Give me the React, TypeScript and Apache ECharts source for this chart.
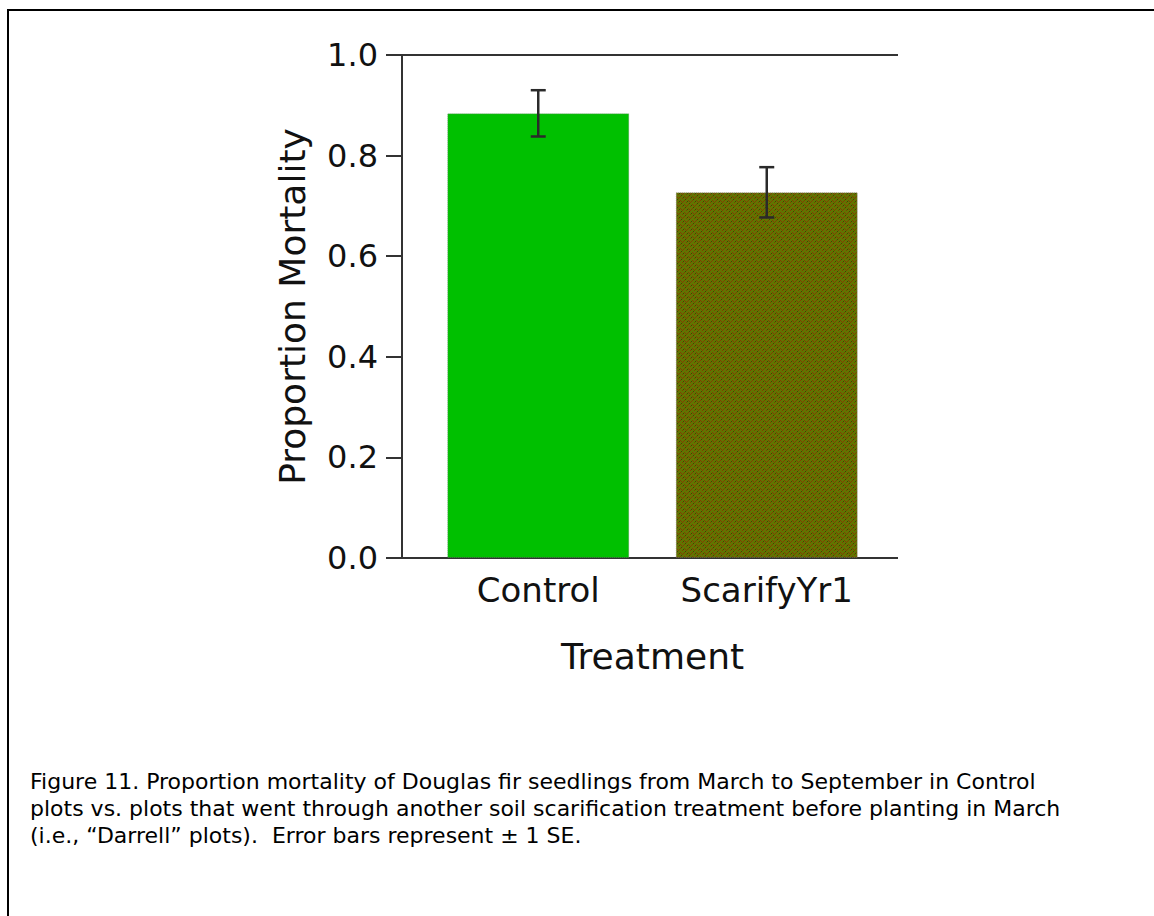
import React, { useEffect, useRef } from "react";
import * as echarts from "echarts";

const categories = ["Control", "ScarifyYr1"];
const means = [0.884, 0.727];
const ses = [0.046, 0.05];
const yTicks = [0, 0.2, 0.4, 0.6, 0.8, 1.0];
const captionLines = [
  "Figure 11. Proportion mortality of Douglas fir seedlings from March to September in Control",
  "plots vs. plots that went through another soil scarification treatment before planting in March",
  "(i.e., \u201CDarrell\u201D plots).  Error bars represent \u00B1 1 SE.",
];

function makePattern(): HTMLCanvasElement {
  const c = document.createElement("canvas");
  c.width = 8;
  c.height = 8;
  const ctx = c.getContext("2d")!;
  ctx.fillStyle = "#627400";
  ctx.fillRect(0, 0, 8, 8);
  ctx.fillStyle = "#7e4200";
  const pts = [
    [0, 0], [1, 1], [2, 2], [3, 1], [4, 0],
    [4, 4], [5, 5], [6, 6], [7, 5], [0, 4],
    [2, 6], [6, 2],
  ];
  pts.forEach(([x, y]) => ctx.fillRect(x, y, 1, 1));
  ctx.fillStyle = "#3a4a00";
  const d = [[3, 5], [7, 1], [1, 3], [5, 7]];
  d.forEach(([x, y]) => ctx.fillRect(x, y, 1, 1));
  return c;
}

export default function App() {
  const ref = useRef<HTMLDivElement>(null);
  useEffect(() => {
    if (!ref.current) return;
    const chart = echarts.init(ref.current, null, { renderer: "svg" });
    const pattern = makePattern();
    const barColors: any[] = ["#00c000", { image: pattern, repeat: "repeat" }];
    const font = "DejaVu Sans";
    const ink = "#111";
    chart.setOption({
      animation: false,
      backgroundColor: "#fff",
      grid: { left: 424, right: 273, top: 55, bottom: 358 },
      xAxis: {
        type: "category",
        data: categories,
        axisLine: { show: false },
        axisTick: { show: false },
        axisLabel: {
          fontFamily: font,
          fontSize: 34,
          color: ink,
          margin: 15,
          interval: 0,
          hideOverlap: false,
        },
        name: "Treatment",
        nameLocation: "middle",
        nameGap: 80,
        nameTextStyle: { fontFamily: font, fontSize: 36, color: ink },
      },
      yAxis: {
        type: "value",
        min: 0,
        max: 1,
        interval: 0.2,
        offset: 22,
        splitLine: { show: false },
        axisLine: { show: true, lineStyle: { color: "#333", width: 2 } },
        axisTick: { show: true, length: 16, lineStyle: { color: "#333", width: 2 } },
        axisLabel: {
          fontFamily: font,
          fontSize: 32,
          color: ink,
          margin: 24,
          padding: [12, 0, 0, 0],
          formatter: (v: number) => {
            const t = yTicks.find((k) => Math.abs(k - v) < 1e-9);
            return (t !== undefined ? t : v).toFixed(1);
          },
        },
        name: "Proportion Mortality",
        nameLocation: "middle",
        nameGap: 92,
        nameTextStyle: { fontFamily: font, fontSize: 36, color: ink },
      },
      series: [
        {
          type: "bar",
          barWidth: 182,
          data: means.map((m, i) => ({
            value: m,
            itemStyle: {
              color: barColors[i],
              borderColor: "rgba(120,120,120,0.55)",
              borderWidth: 1,
              borderType: "dotted",
            },
          })),
        },
        {
          type: "custom",
          z: 10,
          data: means.map((m, i) => [i, m, ses[i]]),
          renderItem: (params: any, api: any) => {
            const x = api.value(0);
            const m = api.value(1);
            const s = api.value(2);
            const top = api.coord([x, m + s]);
            const bot = api.coord([x, m - s]);
            const hw = 7.5;
            const style = { stroke: "#2a2a2a", lineWidth: 2.5 };
            return {
              type: "group",
              children: [
                { type: "line", shape: { x1: top[0], y1: top[1], x2: bot[0], y2: bot[1] }, style },
                { type: "line", shape: { x1: top[0] - hw, y1: top[1], x2: top[0] + hw, y2: top[1] }, style },
                { type: "line", shape: { x1: bot[0] - hw, y1: bot[1], x2: bot[0] + hw, y2: bot[1] }, style },
              ],
            };
          },
        },
      ],
      graphic: [
        {
          type: "rect",
          shape: { x: 8, y: 10, width: 1170, height: 1000 },
          style: { fill: "none", stroke: "#000", lineWidth: 2 },
          z: 0,
        },
        {
          type: "line",
          shape: { x1: 401, y1: 55, x2: 898, y2: 55 },
          style: { stroke: "#333", lineWidth: 2 },
        },
        {
          type: "line",
          shape: { x1: 401, y1: 558, x2: 898, y2: 558 },
          style: { stroke: "#333", lineWidth: 2 },
        },
        {
          type: "text",
          left: 30,
          top: 768,
          style: {
            text: captionLines.join("\n"),
            fontFamily: font,
            fontSize: 22,
            lineHeight: 27,
            fill: "#000",
          },
        },
      ],
    });
    return () => chart.dispose();
  }, []);
  return (
    <div
      ref={ref}
      style={{ position: "absolute", left: 0, top: 0, width: 1154, height: 916 }}
    />
  );
}
